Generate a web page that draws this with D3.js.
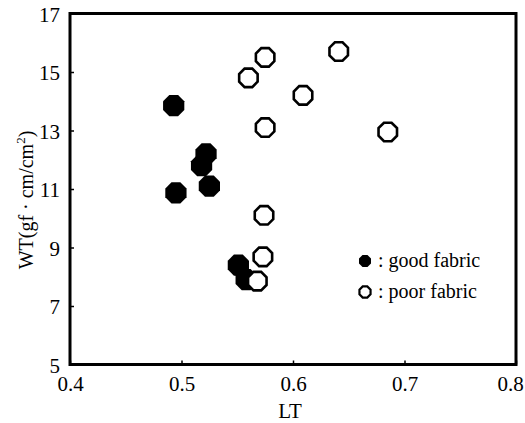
<!DOCTYPE html>
<html>
<head>
<meta charset="utf-8">
<script src="https://cdn.jsdelivr.net/npm/d3@7/dist/d3.min.js"></script>
<style>
  html, body { margin: 0; padding: 0; background: #fff; }
  svg { display: block; }
  svg text { font-family: "Liberation Serif", "Times New Roman", serif !important; fill: #000; }
</style>
</head>
<body>
<svg id="chart" width="525" height="423" font-family="Liberation Serif"></svg>
<script>
// ---- data ----
const goodLT = [0.493, 0.522, 0.518, 0.525, 0.495, 0.551, 0.558];
const goodWT = [13.85, 12.2, 11.8, 11.1, 10.87, 8.4, 7.9];
const poorLT = [0.560, 0.575, 0.641, 0.609, 0.575, 0.685, 0.574, 0.573, 0.568];
const poorWT = [14.8, 15.5, 15.7, 14.2, 13.1, 12.95, 10.1, 8.68, 7.85];
const xTicks = [0.4, 0.5, 0.6, 0.7, 0.8];
const yTicks = [5, 7, 9, 11, 13, 15, 17];
const legendLabels = [": good fabric", ": poor fabric"];

// ---- layout ----
const pL = 70, pR = 516, pT = 13.5, pB = 364.5;
const svg = d3.select("#chart");
const x = d3.scaleLinear().domain([0.4, 0.8]).range([pL, pR]);
const y = d3.scaleLinear().domain([5, 17]).range([pB, pT]);
const FONT = "Liberation Serif";

function octagon(r) {
  const pts = d3.range(8).map(i => {
    const a = Math.PI / 8 + i * Math.PI / 4;
    return [r * Math.cos(a), r * Math.sin(a)];
  });
  return d3.line().curve(d3.curveLinearClosed)(pts);
}

// axes (inward ticks)
const xAxis = d3.axisBottom(x).tickValues(xTicks).tickSize(-4).tickPadding(12)
  .tickFormat(d3.format(".1f"));
const yAxis = d3.axisLeft(y).tickValues(yTicks).tickSize(-4).tickPadding(10)
  .tickFormat(d3.format("d"));

const gx = svg.append("g").attr("transform", `translate(0,${pB})`).call(xAxis);
const gy = svg.append("g").attr("transform", `translate(${pL},0)`).call(yAxis);
[gx, gy].forEach(g => {
  g.attr("font-family", FONT);
  g.select(".domain").remove();
  g.selectAll(".tick line").attr("stroke", "#000").attr("stroke-width", 1.5);
  g.selectAll(".tick text").attr("font-size", 21)
    .attr("font-family", FONT).attr("fill", "#000");
});
gy.selectAll(".tick text").attr("dy", "0.38em");
gx.selectAll(".tick text").filter(d => d === 0.8).attr("dx", -6);

// frame
svg.append("rect")
  .attr("x", pL).attr("y", pT)
  .attr("width", pR - pL).attr("height", pB - pT)
  .attr("fill", "none").attr("stroke", "#000").attr("stroke-width", 3);

// good fabric (filled)
svg.append("g").selectAll("path")
  .data(goodLT.map((v, i) => [v, goodWT[i]]))
  .join("path")
  .attr("d", octagon(11.5))
  .attr("transform", d => `translate(${x(d[0])},${y(d[1])})`)
  .attr("fill", "#000");

// poor fabric (open)
svg.append("g").selectAll("path")
  .data(poorLT.map((v, i) => [v, poorWT[i]]))
  .join("path")
  .attr("d", octagon(10))
  .attr("transform", d => `translate(${x(d[0])},${y(d[1])})`)
  .attr("fill", "#fff").attr("stroke", "#000").attr("stroke-width", 2.6);

// legend
const leg = svg.append("g").attr("font-family", FONT);
leg.append("path").attr("d", octagon(6.5))
  .attr("transform", "translate(365,261)").attr("fill", "#000");
leg.append("path").attr("d", octagon(6))
  .attr("transform", "translate(365,292)").attr("fill", "#fff")
  .attr("stroke", "#000").attr("stroke-width", 2.2);
leg.selectAll("text").data(legendLabels).join("text")
  .attr("x", 378).attr("y", (d, i) => 267 + i * 31)
  .attr("font-size", 20)
  .text(d => d);

// axis titles
svg.append("text")
  .attr("x", 290).attr("y", 418)
  .attr("font-family", FONT)
  .attr("text-anchor", "middle").attr("font-size", 21)
  .text("LT");

const yl = svg.append("text")
  .attr("transform", "translate(33,200) rotate(-90)")
  .attr("font-family", FONT)
  .attr("text-anchor", "middle").attr("font-size", 20);
yl.append("tspan").text("WT(gf · cm/cm");
yl.append("tspan").attr("font-size", 13).attr("dy", -8).text("2");
yl.append("tspan").attr("dy", 8).text(")");
</script>
</body>
</html>
